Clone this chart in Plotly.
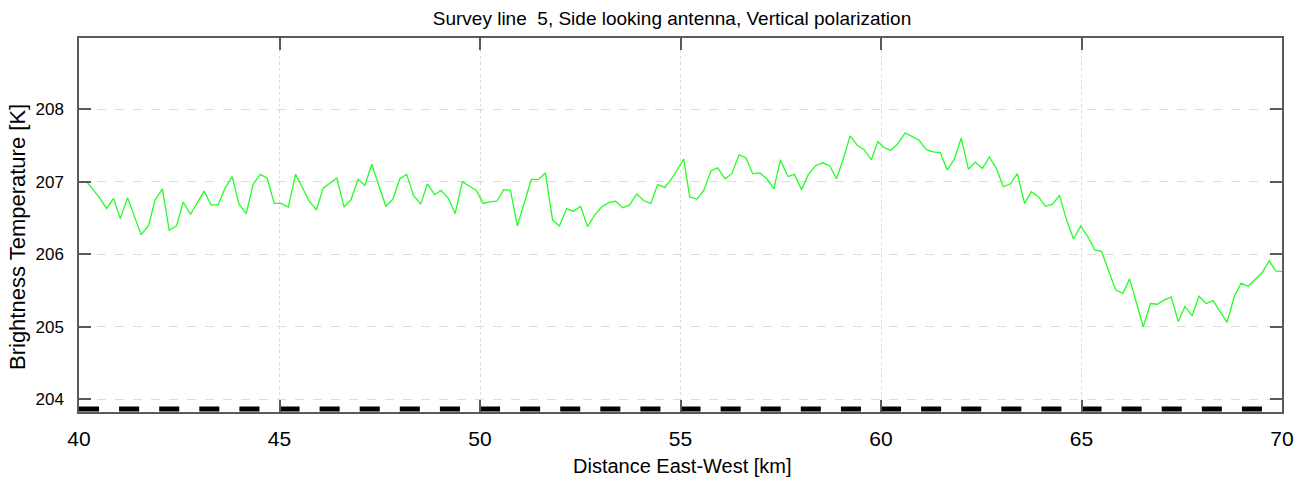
import plotly.graph_objects as go

title_text = "Survey line  5, Side looking antenna, Vertical polarization"
x_title = "Distance East-West [km]"
y_title = "Brightness Temperature [K]"

dist_km = [40.19, 40.48, 40.69, 40.86, 41.03, 41.21, 41.55, 41.73, 41.90, 42.08, 42.25, 42.43, 42.60, 42.78,
           43.12, 43.29, 43.47, 43.64, 43.82, 43.99, 44.17, 44.34, 44.52, 44.69, 44.87, 45.04,
           45.22, 45.40, 45.57, 45.73, 45.92, 46.09, 46.43, 46.61, 46.78, 46.96, 47.13, 47.30, 47.65, 47.83,
           48.00, 48.17, 48.34, 48.52, 48.69, 48.87, 49.03, 49.21, 49.38, 49.56, 49.73, 49.91, 50.08,
           50.24, 50.42, 50.59, 50.76, 50.93, 51.28, 51.46, 51.63, 51.81, 51.98, 52.16, 52.33, 52.51, 52.68,
           52.86, 53.03, 53.21, 53.38, 53.56, 53.73, 53.91, 54.08, 54.26, 54.43, 54.61, 54.78, 54.96, 55.08,
           55.23, 55.41, 55.58, 55.76, 55.93, 56.11, 56.28, 56.46, 56.63, 56.80, 56.98, 57.15, 57.33, 57.49,
           57.68, 57.84, 58.02, 58.19, 58.37, 58.54, 58.72, 58.89, 59.07, 59.23, 59.41, 59.58, 59.76, 59.92,
           60.08, 60.25, 60.43, 60.60, 60.78, 60.95, 61.13, 61.30, 61.48, 61.65, 61.83, 62.00, 62.18, 62.35,
           62.53, 62.70, 62.88, 63.05, 63.23, 63.40, 63.58, 63.75, 63.93, 64.10, 64.28, 64.45, 64.63, 64.80, 64.98,
           65.16, 65.33, 65.50, 65.85, 66.03, 66.20, 66.54, 66.72, 66.89, 67.07, 67.24, 67.41, 67.58, 67.76,
           67.93, 68.11, 68.28, 68.63, 68.81, 68.98, 69.15, 69.33, 69.50, 69.68, 69.84, 70.02]

temp_k = [207.00, 206.80, 206.63, 206.77, 206.49, 206.78, 206.27, 206.39, 206.75, 206.90, 206.33, 206.39, 206.72, 206.55,
          206.87, 206.68, 206.68, 206.91, 207.07, 206.69, 206.56, 206.96, 207.10, 207.05, 206.70, 206.70,
          206.65, 207.10, 206.92, 206.74, 206.61, 206.91, 207.05, 206.65, 206.75, 207.03, 206.95, 207.24, 206.66, 206.76,
          207.04, 207.10, 206.81, 206.69, 206.97, 206.82, 206.88, 206.77, 206.56, 207.00, 206.94, 206.88, 206.70,
          206.72, 206.73, 206.89, 206.88, 206.39, 207.03, 207.03, 207.12, 206.47, 206.39, 206.63, 206.59, 206.66, 206.38,
          206.54, 206.65, 206.71, 206.73, 206.64, 206.68, 206.83, 206.74, 206.70, 206.96, 206.92, 207.04, 207.21, 207.31,
          206.79, 206.76, 206.88, 207.15, 207.19, 207.04, 207.11, 207.37, 207.33, 207.11, 207.12, 207.04, 206.90, 207.30,
          207.07, 207.10, 206.89, 207.10, 207.22, 207.26, 207.22, 207.04, 207.33, 207.63, 207.50, 207.44, 207.30, 207.55,
          207.47, 207.43, 207.53, 207.67, 207.62, 207.57, 207.44, 207.41, 207.40, 207.16, 207.31, 207.60, 207.17, 207.27,
          207.18, 207.34, 207.18, 206.93, 206.97, 207.11, 206.70, 206.86, 206.79, 206.66, 206.69, 206.81, 206.47, 206.21, 206.39,
          206.24, 206.06, 206.04, 205.51, 205.46, 205.66, 205.00, 205.32, 205.31, 205.37, 205.41, 205.07, 205.28, 205.15,
          205.42, 205.32, 205.36, 205.06, 205.42, 205.60, 205.56, 205.65, 205.74, 205.91, 205.77, 205.76]

x_ticks = [40, 45, 50, 55, 60, 65, 70]
y_ticks = [204, 205, 206, 207, 208]
x_range = [40, 70]
y_range = [203.825, 208.98]
flag_level = 203.865

W, H = 1295, 482
ML, MR, MT, MB = 79, 13, 38, 70
plot_w = W - ML - MR
half_km_px = plot_w / (x_range[1] - x_range[0]) / 2

FONT = "Liberation Sans, Arial, sans-serif"
AX = "#5a5a5a"

fig = go.Figure()
fig.add_trace(go.Scatter(x=dist_km, y=temp_k, mode="lines",
                         line=dict(color="#22ff22", width=1.3), showlegend=False))
fig.add_trace(go.Scatter(x=x_range, y=[flag_level, flag_level], mode="lines",
                         line=dict(color="black", width=5,
                                   dash=f"{half_km_px:.2f}px,{half_km_px:.2f}px"),
                         showlegend=False))

fig.update_layout(
    width=W, height=H,
    margin=dict(l=ML, r=MR, t=MT, b=MB, autoexpand=False),
    paper_bgcolor="white", plot_bgcolor="white",
    font=dict(family=FONT, color="black"),
    title=dict(text=title_text, x=672 / W, xref="container", xanchor="center",
               y=1 - 18 / H, yref="container", yanchor="middle",
               font=dict(size=19, family=FONT)),
    annotations=[
        dict(text=x_title, xref="paper", yref="paper", x=(682 - ML) / plot_w, y=-(466 - (H - MB)) / (H - MT - MB),
             xanchor="center", yanchor="middle", showarrow=False, font=dict(size=20, family=FONT)),
        dict(text=y_title, xref="paper", yref="paper", x=-(ML - 17) / plot_w, y=(H - MB - 237) / (H - MT - MB),
             xanchor="center", yanchor="middle", textangle=-90, showarrow=False,
             font=dict(size=22, family=FONT)),
    ],
)
fig.update_xaxes(range=x_range, tickvals=x_ticks, ticks="inside", ticklen=12, tickwidth=1.5,
                 tickcolor=AX, showline=True, linecolor=AX, linewidth=1.5, mirror="ticks",
                 showgrid=True, gridcolor="#dcdcdc", griddash="dot", gridwidth=1,
                 zeroline=False, tickfont=dict(size=21, family=FONT), automargin=False,
                 ticklabelstandoff=7)
fig.update_yaxes(range=y_range, tickvals=y_ticks, ticks="inside", ticklen=12, tickwidth=1.5,
                 tickcolor=AX, showline=True, linecolor=AX, linewidth=1.5, mirror="ticks",
                 showgrid=True, gridcolor="#dcdcdc", griddash="dash", gridwidth=1,
                 zeroline=False, tickfont=dict(size=17, family=FONT), automargin=False,
                 ticklabelstandoff=10)

fig.write_html("out.html")
